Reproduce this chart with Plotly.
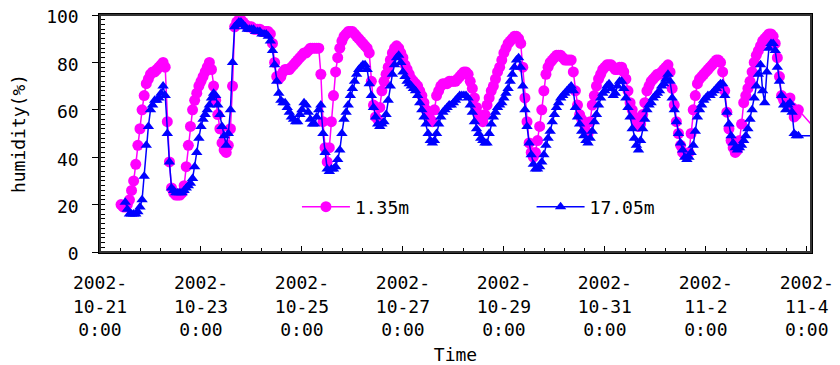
import plotly.graph_objects as go
import pandas as pd

# ---- data (relative humidity, %; hourly) ----
shallow_name = "1.35m"
shallow_start = "2002-10-21 10:00"
shallow_vals = [
    20, 19, 19, 20, 22, 26, 30, 37, 45, 52, 60, 66, 71, 73, 75, 76, 76, 77, 78, 79, 80, 78, 55, 38,
    27, 25, 24, 24, 24, 25, 28, 36, 45, 53, 60, 64, 67, 70, 72, 74, 76, 78, 80, 77, 70, 64, 58, 52,
    46, 43, 42, 45, 52, 70, 95, 97, 98, 98, 97, 96, 95, 95, 95, 94, 94, 94, 94, 93, 93, 93, 93, 92,
    88, 80, 74, 73, 74, 76, 77, 77, 77, 78, 79, 80, 81, 82, 83, 84, 84, 85, 86, 86, 86, 86, 86, 75,
    55, 44, 38, 44, 55, 66, 76, 82, 86, 89, 91, 92, 93, 93, 93, 92, 91, 90, 89, 88, 87, 86, 84, 72,
    62, 57, 56, 61, 68, 72, 75, 78, 81, 84, 86, 87, 86, 84, 82, 79, 77, 75, 73, 72, 71, 70, 68, 66,
    63, 60, 58, 56, 55, 60, 66, 68, 70, 71, 71, 71, 72, 72, 72, 72, 73, 74, 75, 76, 76, 75, 72, 69,
    65, 61, 58, 56, 55, 58, 62, 65, 68, 70, 73, 76, 78, 81, 84, 86, 88, 89, 90, 91, 91, 90, 88, 78,
    65, 55, 46, 42, 40, 42, 47, 53, 60, 68, 75, 78, 80, 81, 82, 83, 83, 83, 82, 81, 81, 81, 81, 76,
    68, 62, 58, 56, 54, 51, 50, 55, 62, 66, 70, 73, 75, 77, 78, 79, 79, 79, 78, 77, 77, 78, 78, 76,
    73, 68, 63, 60, 57, 55, 53, 54, 58, 63, 68, 70, 72, 73, 74, 75, 75, 76, 77, 78, 79, 76, 69, 62,
    55, 50, 45, 42, 41, 41, 42, 50, 60, 66, 71, 73, 74, 75, 76, 77, 78, 79, 80, 81, 81, 80, 76, 68,
    59, 52, 47, 44, 42, 43, 47, 54, 63, 66, 69, 72, 76, 80, 83, 85, 87, 89, 90, 91, 92, 92, 91, 88,
    82, 74, 66, 64, 63, 64, 65, 61, 57, 58, 60,
]
shallow_tail_time = "2002-11-04 09:00"
shallow_tail_val = 47

deep_name = "17.05m"
deep_start = "2002-10-21 12:00"
deep_vals = [
    21, 18, 16, 16, 16, 16, 17, 19, 22, 32, 45, 53, 60, 62, 64, 64, 65, 67, 70, 66, 50, 38, 27, 26,
    25, 25, 25, 25, 26, 27, 28, 29, 31, 36, 42, 48, 53, 56, 58, 60, 62, 65, 67, 66, 62, 58, 53, 49,
    45, 50, 60, 80, 95, 96, 97, 97, 96, 95, 94, 94, 94, 94, 93, 93, 93, 92, 92, 92, 91, 89, 85, 79,
    72, 67, 64, 63, 63, 61, 59, 57, 56, 55, 55, 58, 60, 63, 62, 59, 56, 54, 54, 57, 60, 62, 50, 42,
    35, 34, 35, 35, 36, 39, 43, 50, 56, 59, 62, 66, 69, 72, 75, 77, 78, 79, 79, 77, 71, 66, 61, 57,
    54, 53, 54, 55, 58, 64, 70, 75, 79, 82, 83, 80, 76, 74, 72, 71, 70, 69, 68, 66, 63, 60, 57, 54,
    50, 47, 46, 47, 50, 54, 57, 59, 60, 61, 62, 62, 63, 64, 65, 66, 66, 66, 66, 65, 62, 59, 55, 52,
    50, 48, 47, 46, 46, 50, 54, 57, 59, 61, 62, 63, 65, 67, 69, 72, 75, 78, 81, 82, 78, 70, 60, 53,
    46, 41, 37, 35, 35, 36, 38, 41, 45, 48, 51, 55, 58, 61, 63, 65, 66, 67, 68, 69, 70, 68, 61, 57,
    54, 51, 49, 47, 46, 48, 51, 55, 58, 62, 65, 67, 68, 70, 71, 69, 66, 67, 70, 72, 72, 69, 65, 61,
    57, 52, 48, 45, 43, 47, 52, 56, 60, 62, 63, 65, 66, 67, 68, 70, 71, 73, 75, 72, 65, 60, 55, 50,
    46, 43, 40, 39, 40, 42, 45, 51, 57, 60, 62, 64, 65, 66, 66, 67, 68, 69, 70, 71, 71, 66, 59, 54,
    49, 46, 44, 43, 44, 45, 47, 49, 52, 56, 60, 65, 70, 75, 79, 68, 63, 76, 86, 88, 88, 85, 78, 72,
    66, 62, 60, 62, 63, 59, 50, 49, 49,
]
deep_tail_time = "2002-11-04 09:00"
deep_tail_val = 49

tick_dates = ["2002-10-21", "2002-10-23", "2002-10-25", "2002-10-27",
              "2002-10-29", "2002-10-31", "2002-11-02", "2002-11-04"]
tick_labels = ["2002-<br>10-21<br>0:00", "2002-<br>10-23<br>0:00",
               "2002-<br>10-25<br>0:00", "2002-<br>10-27<br>0:00",
               "2002-<br>10-29<br>0:00", "2002-<br>10-31<br>0:00",
               "2002-<br>11-2<br>0:00", "2002-<br>11-4<br>0:00"]

x_title = "Time"
y_title = "humidity(%)"

# ---- build ----
FONT = "DejaVu Sans Mono"

sh_t = list(pd.date_range(shallow_start, periods=len(shallow_vals), freq="1h")) + [pd.Timestamp(shallow_tail_time)]
sh_v = shallow_vals + [shallow_tail_val]
dp_t = list(pd.date_range(deep_start, periods=len(deep_vals), freq="1h")) + [pd.Timestamp(deep_tail_time)]
dp_v = deep_vals + [deep_tail_val]

fig = go.Figure()
fig.add_trace(go.Scatter(
    x=sh_t, y=sh_v, name=shallow_name, mode="lines+markers",
    line=dict(color="#FF00FF", width=1.5),
    marker=dict(symbol="circle", size=11, color="#FF00FF"),
    legend="legend",
))
fig.add_trace(go.Scatter(
    x=dp_t, y=dp_v, name=deep_name, mode="lines+markers",
    line=dict(color="#0000FF", width=1.5),
    marker=dict(symbol="triangle-up", size=10, color="#0000FF"),
    legend="legend2",
))

# page body has an 8px default margin, so the figure is 8px smaller and margins shifted
fig.update_layout(
    width=832, height=357,
    margin=dict(l=92, r=29, t=7, b=113),
    paper_bgcolor="white", plot_bgcolor="white",
    showlegend=True,
    font=dict(family=FONT, size=18, color="black"),
    legend=dict(x=0.277, y=0.19, xanchor="left", yanchor="middle",
                bgcolor="rgba(0,0,0,0)", itemwidth=48,
                font=dict(family=FONT, size=18)),
    legend2=dict(x=0.607, y=0.19, xanchor="left", yanchor="middle",
                 bgcolor="rgba(0,0,0,0)", itemwidth=48,
                 font=dict(family=FONT, size=18)),
    shapes=[dict(type="rect", xref="paper", yref="paper", x0=0, x1=1, y0=0, y1=1,
                 line=dict(color="#333333", width=2), fillcolor="rgba(0,0,0,0)",
                 layer="above")],
)

fig.update_xaxes(
    type="date", automargin=False,
    range=["2002-10-21 00:00", "2002-11-04 02:00"],
    tickmode="array", tickvals=tick_dates, ticktext=tick_labels,
    ticks="inside", ticklen=6, tickcolor="black", tickwidth=1,
    ticklabelstandoff=14, ticklabeloverflow="allow",
    minor=dict(dtick=34560000, tick0="2002-10-21", ticks="inside",
               ticklen=4, tickcolor="black"),
    showline=True, linecolor="black", linewidth=1.5, mirror=True,
    showgrid=False, zeroline=False,
    tickfont=dict(family=FONT, size=18),
    title=dict(text=x_title, font=dict(family=FONT, size=18), standoff=13),
)
fig.update_yaxes(
    automargin=False,
    range=[0, 100], dtick=20,
    ticks="outside", ticklen=6, tickcolor="black",
    ticklabelstandoff=10, ticklabelshift=2, ticklabeloverflow="allow",
    minor=dict(dtick=2, ticks="inside", ticklen=5, tickcolor="black"),
    showline=True, linecolor="black", linewidth=1.5, mirror=True,
    showgrid=False, zeroline=False,
    tickfont=dict(family=FONT, size=18),
    title=dict(text=y_title, font=dict(family=FONT, size=18), standoff=22),
)

fig.write_html("out.html")
